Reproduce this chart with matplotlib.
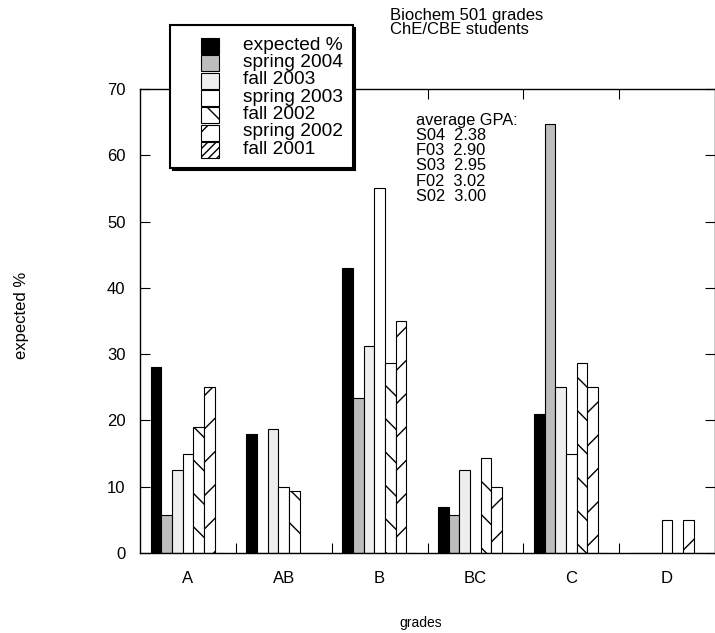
import numpy as np
import matplotlib
matplotlib.use("Agg")
import matplotlib.pyplot as plt
from matplotlib.patches import Rectangle
from matplotlib.container import BarContainer
from matplotlib.legend_handler import HandlerPatch, update_from_first_child

plt.rcParams["font.family"] = ["Liberation Sans", "DejaVu Sans"]
plt.rcParams["hatch.linewidth"] = 1.0

# data
grades = ["A", "AB", "B", "BC", "C", "D"]
series = ["expected %", "spring 2004", "fall 2003", "spring 2003",
          "fall 2002", "spring 2002", "fall 2001"]
expected = [28, 18, 43, 7, 21, 0]
spring2004 = [5.7, 0, 23.4, 5.7, 64.7, 0]
fall2003 = [12.5, 18.75, 31.25, 12.5, 25, 0]
spring2003 = [15, 10, 55, 0, 15, 5]
fall2002 = [19, 9.4, 28.6, 14.3, 28.6, 0]
spring2002 = [25, 0, 35, 10, 25, 5]
fall2001 = [0, 0, 0, 0, 0, 0]
values = [expected, spring2004, fall2003, spring2003, fall2002, spring2002, fall2001]

gpa_lines = ["average GPA:", "S04  2.38", "F03  2.90", "S03  2.95", "F02  3.02", "S02  3.00"]

# style per series: (facecolor, hatch)
styles = [("black", None), ("#bdbdbd", None), ("#eeeeee", None), ("white", None),
          ("white", "\\"), ("white", "/"), ("white", "////")]

W, H = 715, 633
fig = plt.figure(figsize=(W / 100, H / 100), dpi=100)
ax = fig.add_axes([140 / W, 1 - 553 / H, (715 - 140) / W, (553 - 89) / H])

x = np.arange(len(grades))
n = len(series)
bw = 1 / (n + 2)
for j, (name, vals) in enumerate(zip(series, values)):
    fc, hatch = styles[j]
    ax.bar(x + (j - (n - 1) / 2) * bw, vals, width=bw, color=fc, hatch=hatch,
           edgecolor="black", linewidth=0.8, label=name)

ax.set_xlim(-0.5, 5.5)
ax.set_ylim(0, 70)
ax.set_yticks(range(0, 71, 10))
ax.set_xticks(x)
ax.set_xticklabels(grades)
ax.set_xticks(x[:-1] + 0.5, minor=True)
ax.tick_params(axis="x", which="major", length=0, pad=13, labelsize=12)
ax.tick_params(axis="x", which="minor", direction="in", length=7, width=0.8,
               top=True, bottom=True)
ax.tick_params(axis="y", direction="in", length=7, width=0.8, left=True, right=True,
               pad=10.5, labelsize=12)
for s in ax.spines.values():
    s.set_linewidth(1.0)

LFS = 13.8


def swatch(legend, orig_handle, xdescent, ydescent, width, height, fontsize):
    # 13pt wide swatch sitting at the right end of the handle box
    return Rectangle((-xdescent + width - 13, -ydescent - 2.1), 13, height)


leg = ax.legend(loc="upper left", bbox_to_anchor=(170 / W, 1 - 25 / H),
                bbox_transform=fig.transFigure, borderaxespad=0, fontsize=LFS,
                handlelength=2.05, handleheight=0.92, handletextpad=1.22,
                labelspacing=-0.07, borderpad=0.52, fancybox=False,
                framealpha=1, edgecolor="black",
                shadow={"facecolor": "black", "edgecolor": "black", "alpha": 1},
                handler_map={BarContainer: HandlerPatch(patch_func=swatch,
                                                        update_func=update_from_first_child)})
leg.get_frame().set_linewidth(1.5)

# text blocks
for k, line in enumerate(["Biochem 501 grades", "ChE/CBE students"]):
    fig.text(390 / W, 1 - (20 + 14.3 * k) / H, line, fontsize=12, va="baseline")
for k, line in enumerate(gpa_lines):
    fig.text(416 / W, 1 - (124.5 + 15.3 * k) / H, line, fontsize=11.8, va="baseline")

fig.text(22 / W, 1 - 315 / H, "expected %", rotation=90, ha="center", va="center", fontsize=12)
fig.text(421 / W, 1 - 623 / H, "grades", ha="center", va="center", fontsize=10)

fig.savefig("out.png", dpi=100)
